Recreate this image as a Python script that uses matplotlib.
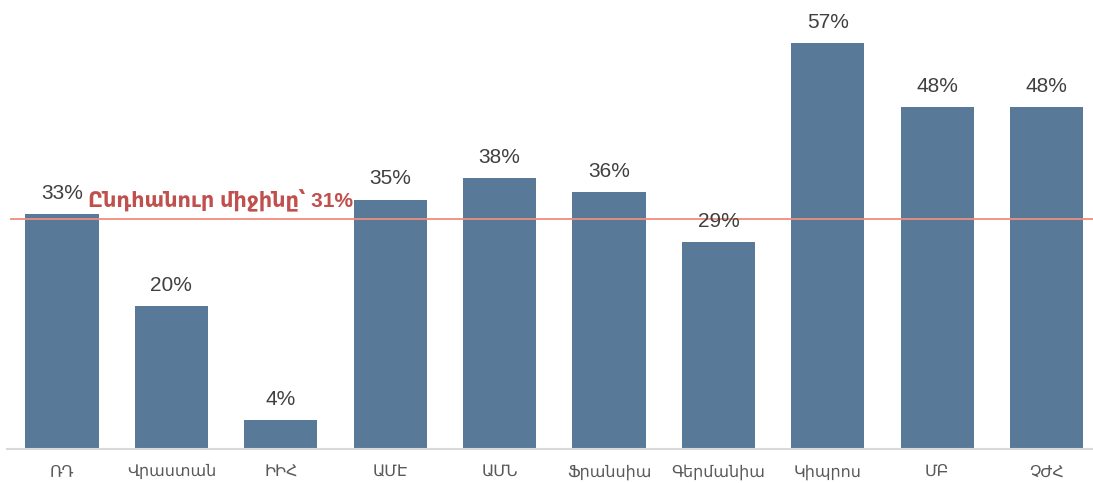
import matplotlib
matplotlib.use("Agg")
import matplotlib.pyplot as plt

categories = ["ՌԴ", "Վրաստան", "ԻԻՀ", "ԱՄԷ", "ԱՄՆ", "Ֆրանսիա", "Գերմանիա", "Կիպրոս", "ՄԲ", "ՉԺՀ"]
values = [33, 20, 4, 35, 38, 36, 29, 57, 48, 48]
value_labels = ["33%", "20%", "4%", "35%", "38%", "36%", "29%", "57%", "48%", "48%"]
avg_line_value = 32.3
avg_label = "Ընդհանուր միջինը՝ 31%"

plt.rcParams['font.family'] = ['Liberation Sans', 'DejaVu Sans']

fig = plt.figure(figsize=(10.93, 4.83), dpi=100)
ax = fig.add_axes([7/1093, 34/483, 1086/1093, 449/483])

x = list(range(len(categories)))
ax.bar(x, values, width=0.67, color="#587a98", zorder=2)
ax.set_xlim(-0.503, 9.424)
ax.set_ylim(0, 63)

for xi, v, lab in zip(x, values, value_labels):
    ax.annotate(lab, (xi, v), xytext=(0, 8), textcoords="offset points",
                ha="center", va="bottom", fontsize=15, color="#404040", zorder=4)

ax.axhline(avg_line_value, xmin=0.004, xmax=1.0, color="#f08c7e", lw=1.3, zorder=3)
ax.annotate(avg_label, (0, avg_line_value), xytext=(88, 276), textcoords="figure pixels",
            ha="left", va="baseline", fontsize=15, fontweight="bold", color="#c0504d",
            family=['Liberation Sans', 'DejaVu Sans'], zorder=5)

for s in ["top", "right", "left"]:
    ax.spines[s].set_visible(False)
ax.spines["bottom"].set_color("#d9d9d9")
ax.spines["bottom"].set_linewidth(1.5)
ax.set_yticks([])
ax.set_xticks(x)
ax.set_xticklabels(categories, fontsize=11.5, color="#595959")
ax.tick_params(axis="x", length=0, pad=11)

fig.savefig("out.png", dpi=100)
